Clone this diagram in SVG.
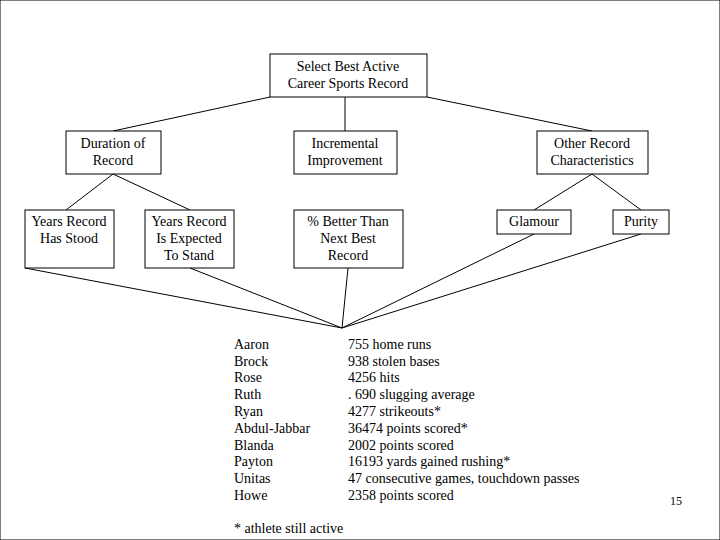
<svg xmlns="http://www.w3.org/2000/svg" width="720" height="540" viewBox="0 0 720 540">
<style>
rect{fill:#fff;stroke:#000;stroke-width:1}
line{stroke:#000;stroke-width:1}
text{font-family:"Liberation Serif","Times New Roman",serif;font-size:14px;fill:#000}
.c{text-anchor:middle}
</style>
<rect width="720" height="540" fill="#fff" stroke="none"/>
<g id="connectors">
<line x1="270" y1="97" x2="113" y2="131"/>
<line x1="345" y1="97" x2="345" y2="131"/>
<line x1="427" y1="97" x2="592" y2="131"/>
<line x1="113" y1="174" x2="66" y2="210"/>
<line x1="113" y1="174" x2="190" y2="210"/>
<line x1="592" y1="174" x2="534" y2="210"/>
<line x1="592" y1="174" x2="641" y2="210"/>
<line x1="25" y1="268" x2="342" y2="328"/>
<line x1="190" y1="268" x2="342" y2="328"/>
<line x1="348" y1="268" x2="342" y2="328"/>
<line x1="534" y1="234" x2="342" y2="328"/>
<line x1="641" y1="234" x2="342" y2="328"/>
</g>
<g id="root"><rect x="270" y="54" width="157" height="43"/><text class="c" x="348" y="71">Select Best Active</text><text class="c" x="348" y="88">Career Sports Record</text></g>
<g id="duration"><rect x="66" y="131" width="95" height="43"/><text class="c" x="113" y="148">Duration of</text><text class="c" x="113" y="165">Record</text></g>
<g id="incremental"><rect x="294" y="131" width="103" height="43"/><text class="c" x="345" y="148">Incremental</text><text class="c" x="345" y="165">Improvement</text></g>
<g id="other"><rect x="537" y="131" width="111" height="43"/><text class="c" x="592" y="148">Other Record</text><text class="c" x="592" y="165">Characteristics</text></g>
<g id="stood"><rect x="25" y="210" width="89" height="58"/><text class="c" x="69" y="226">Years Record</text><text class="c" x="69" y="243">Has Stood</text></g>
<g id="expected"><rect x="145" y="210" width="89" height="58"/><text class="c" x="189" y="226">Years Record</text><text class="c" x="189" y="243">Is Expected</text><text class="c" x="189" y="260">To Stand</text></g>
<g id="better"><rect x="294" y="210" width="109" height="58"/><text class="c" x="348" y="226">% Better Than</text><text class="c" x="348" y="243">Next Best</text><text class="c" x="348" y="260">Record</text></g>
<g id="glamour"><rect x="497" y="210" width="74" height="24"/><text class="c" x="534" y="226">Glamour</text></g>
<g id="purity"><rect x="613" y="210" width="56" height="24"/><text class="c" x="641" y="226">Purity</text></g>
<g id="list">
<text x="234" y="349">Aaron</text><text x="348" y="349">755 home runs</text>
<text x="234" y="366">Brock</text><text x="348" y="366">938 stolen bases</text>
<text x="234" y="382">Rose</text><text x="348" y="382">4256 hits</text>
<text x="234" y="399">Ruth</text><text x="348" y="399">. 690 slugging average</text>
<text x="234" y="416">Ryan</text><text x="348" y="416">4277 strikeouts*</text>
<text x="234" y="433">Abdul-Jabbar</text><text x="348" y="433"> 36474 points scored*</text>
<text x="234" y="450">Blanda</text><text x="348" y="450">2002 points scored</text>
<text x="234" y="466">Payton</text><text x="348" y="466">16193 yards gained rushing*</text>
<text x="234" y="483">Unitas</text><text x="348" y="483">47 consecutive games, touchdown passes</text>
<text x="234" y="500">Howe</text><text x="348" y="500">2358 points scored</text>
<text x="234" y="533">* athlete still active</text>
<text x="670" y="505" style="font-size:12px">15</text>
</g>
</svg>
